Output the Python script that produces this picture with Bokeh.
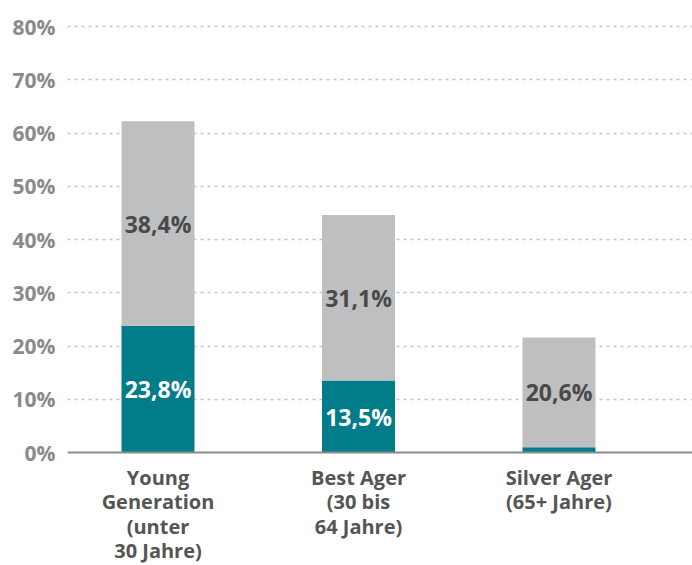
from bokeh.plotting import figure
from bokeh.models import FixedTicker, ColumnDataSource, Range1d, Span
from bokeh.embed import file_html
from bokeh.resources import INLINE
from bokeh.core.properties import value

categories = ["Young\nGeneration\n(unter\n30 Jahre)", "Best Ager\n(30 bis\n64 Jahre)", "Silver Ager\n(65+ Jahre)"]
teal_values = [23.8, 13.5, 1.0]
gray_values = [38.4, 31.1, 20.6]
teal_labels = ["23,8%", "13,5%", ""]
gray_labels = ["38,4%", "31,1%", "20,6%"]
y_ticks = [0, 10, 20, 30, 40, 50, 60, 70, 80]

TEAL = "#007d89"
GRAY = "#bebfc1"
FONT = "Open Sans"

W, H = 692, 565
PX_PER_X = 200.5      # pixels per category step
PX_PER_Y = 5.325      # pixels per percentage point
LEFT = 67             # frame left edge (px)
X0 = 157.5            # pixel position of first category
Y0 = 452              # pixel position of 0%

xs = list(range(len(categories)))
src = ColumnDataSource(dict(
    x=xs,
    zero=[0] * len(xs),
    cats=categories,
    teal_top=teal_values,
    gray_top=[t + g for t, g in zip(teal_values, gray_values)],
    teal_mid=[t / 2 for t in teal_values],
    gray_mid=[t + g / 2 for t, g in zip(teal_values, gray_values)],
    teal_labels=teal_labels,
    gray_labels=gray_labels,
))

x_range = Range1d(-(X0 - LEFT) / PX_PER_X, (W - X0) / PX_PER_X)
y_range = Range1d(-(H - Y0) / PX_PER_Y, Y0 / PX_PER_Y)

p = figure(width=W, height=H, output_backend="svg", toolbar_location=None,
           x_range=x_range, y_range=y_range,
           min_border_left=LEFT, min_border_right=0, min_border_top=0, min_border_bottom=0)
p.outline_line_color = None
p.background_fill_color = "white"
p.border_fill_color = "white"

# grid
p.xgrid.visible = False
p.ygrid.ticker = FixedTicker(ticks=y_ticks[1:])
p.ygrid.grid_line_color = "#c4c4c4"
p.ygrid.grid_line_dash = "3 4"
p.ygrid.grid_line_width = 1.5

p.vbar(x="x", width=0.364, bottom=0, top="teal_top", fill_color=TEAL, line_color=None, source=src)
p.vbar(x="x", width=0.364, bottom="teal_top", top="gray_top", fill_color=GRAY, line_color=None, source=src)

# zero baseline
p.add_layout(Span(location=0, dimension="width", line_color="#8a8a8a", line_width=2))

p.text(x="x", y="teal_mid", text="teal_labels", source=src, text_align="center", text_baseline="middle",
       text_color="white", text_font=value(FONT), text_font_style="bold", text_font_size="23px")
p.text(x="x", y="gray_mid", text="gray_labels", source=src, text_align="center", text_baseline="middle",
       text_color="#4a4a4a", text_font=value(FONT), text_font_style="bold", text_font_size="23px")

# category labels below the baseline
p.text(x="x", y="zero", text="cats", source=src, text_align="center", text_baseline="top",
       y_offset=11, text_color="#555555", text_font=value(FONT), text_font_style="bold",
       text_font_size="20px", text_line_height=0.91)

# y axis
p.yaxis.ticker = FixedTicker(ticks=y_ticks)
p.yaxis.major_label_overrides = {t: f"{t}%" for t in y_ticks}
p.yaxis.axis_line_color = None
p.yaxis.major_tick_line_color = None
p.yaxis.minor_tick_line_color = None
p.yaxis.major_label_text_font = FONT
p.yaxis.major_label_text_font_style = "bold"
p.yaxis.major_label_text_font_size = "21px"
p.yaxis.major_label_text_color = "#8a8a8a"
p.yaxis.major_label_standoff = 6

p.xaxis.visible = False

open("out.html", "w").write(file_html(p, INLINE))
